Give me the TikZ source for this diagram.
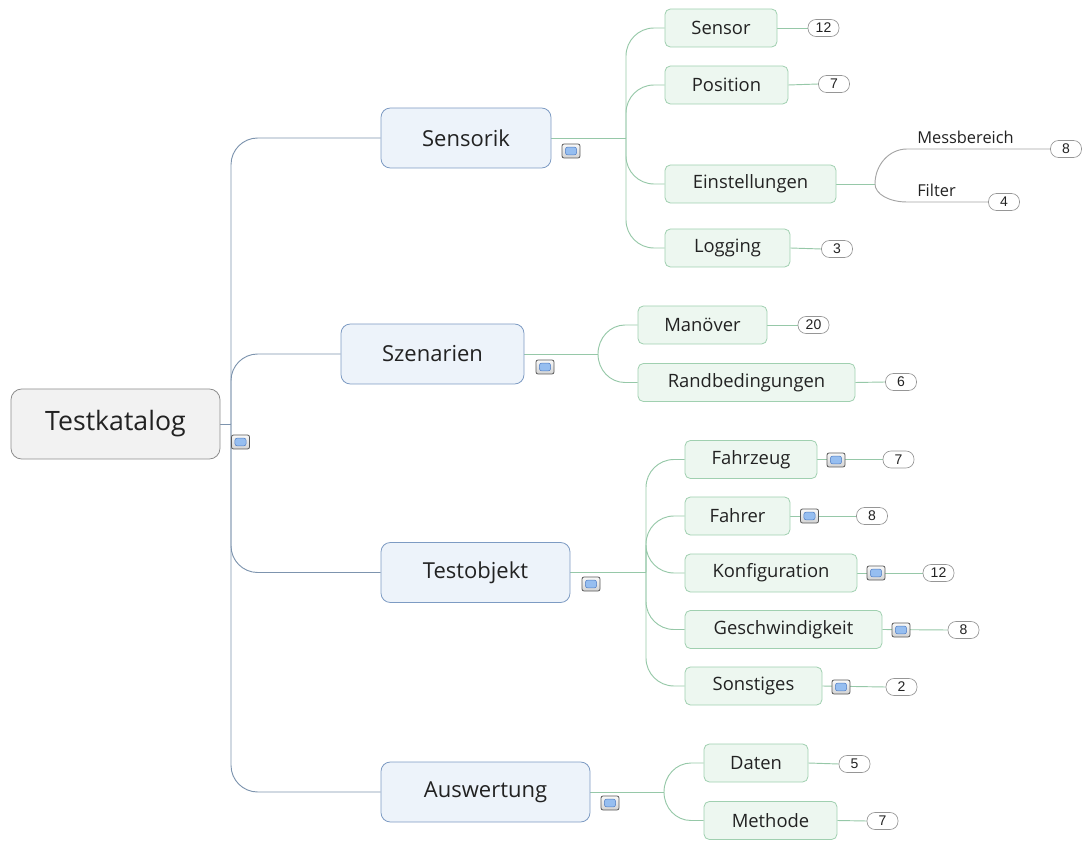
\documentclass[tikz,border=0pt]{standalone}
\usepackage{fontspec}
\setmainfont{Open Sans}
\newfontfamily\badgefont{Liberation Sans}
\usetikzlibrary{backgrounds}

\definecolor{txt}{RGB}{34,34,34}
\definecolor{rootfill}{RGB}{242,242,242}
\definecolor{rootline}{RGB}{140,140,140}
\definecolor{topicfill}{RGB}{237,243,250}
\definecolor{topicline}{RGB}{125,155,195}
\definecolor{subfill}{RGB}{237,247,240}
\definecolor{subline}{RGB}{160,208,176}
\definecolor{mainwire}{RGB}{125,148,174}
\definecolor{subwire}{RGB}{150,200,168}
\definecolor{leafwire}{RGB}{165,165,165}
\definecolor{badgeline}{RGB}{150,150,150}
\definecolor{iconblue}{RGB}{150,190,240}
\definecolor{iconedge}{RGB}{80,125,195}

\tikzset{
  rootbox/.style={draw=rootline, fill=rootfill, rounded corners=8pt, line width=0.6pt,
    text=txt, font=\fontsize{20}{24}\selectfont, inner sep=0pt, minimum height=52.5pt},
  topicbox/.style={draw=topicline, fill=topicfill, rounded corners=7pt, line width=0.6pt,
    text=txt, font=\fontsize{16.5}{20}\selectfont, inner sep=0pt, minimum height=45pt},
  subbox/.style={draw=subline, fill=subfill, rounded corners=4pt, line width=0.6pt,
    text=txt, font=\fontsize{13.8}{17}\selectfont, inner sep=0pt, minimum height=28.5pt},
  badge/.style={draw=badgeline, fill=white, rounded corners=6pt, line width=0.5pt,
    minimum width=23.25pt, minimum height=12.75pt, inner sep=0pt,
    font=\badgefont\fontsize{10.5}{11}\selectfont, text=txt},
  leaflabel/.style={anchor=west, inner sep=0pt, text=txt, font=\fontsize{12.3}{15}\selectfont},
  mainlink/.style={draw=mainwire, line width=0.7pt},
  sublink/.style={draw=subwire, line width=0.7pt},
  leaflink/.style={draw=leafwire, line width=0.7pt},
  foldbox/.style={draw=gray!70!black, top color=gray!5, bottom color=gray!35,
    rounded corners=1.5pt, line width=0.6pt, minimum width=13.5pt, minimum height=10.5pt,
    inner sep=0pt,
    path picture={\draw[draw=iconedge, fill=iconblue, line width=0.4pt]
      ([xshift=2.6pt,yshift=2.4pt]path picture bounding box.south west) rectangle
      ([xshift=-2.6pt,yshift=-2.4pt]path picture bounding box.north east);}},
}

\begin{document}
\begin{tikzpicture}[x=0.75pt,y=-0.75pt]
\useasboundingbox (0,0) rectangle (1082,841);

% root
\node[rootbox, minimum width=156.75pt] (tk) at (115.5,424) {Testkatalog};
\node[foldbox] (tkfold) at (240.5,442) {};

% main topics
\node[topicbox, minimum width=127.5pt]  (sens)    at (466,138)   {Sensorik};
\node[topicbox, minimum width=137.25pt] (szen)    at (432.5,354) {Szenarien};
\node[topicbox, minimum width=141.75pt] (testobj) at (475.5,572.5) {Testobjekt};
\node[topicbox, minimum width=156.75pt] (ausw)    at (485.5,792) {Auswertung};
\node[foldbox] (sensfold) at (571,151) {};
\node[foldbox] (szenfold) at (545,367) {};
\node[foldbox] (objfold)  at (591,584) {};
\node[foldbox] (auswfold) at (610,803) {};

% Sensorik
\node[subbox, minimum width=84pt]     (sensor)   at (721,28)    {Sensor};
\node[subbox, minimum width=92.25pt]  (position) at (726.5,85)  {Position};
\node[subbox, minimum width=128.25pt] (einst)    at (750.5,184) {Einstellungen};
\node[subbox, minimum width=93.75pt]  (logging)  at (727.5,248) {Logging};
\node[badge] (bsensor)   at (823.5,28) {12};
\node[badge] (bposition) at (834,84)   {7};
\node[badge] (blogging)  at (837,249)  {3};
\node[leaflabel] (messb)  at (917,137) {Messbereich};
\node[leaflabel] (filter) at (917,190) {Filter};
\node[badge] (bmessb)  at (1066,149) {8};
\node[badge] (bfilter) at (1004,202) {4};

% Szenarien
\node[subbox, minimum width=96.75pt]  (manoever) at (702.5,325)   {Manöver};
\node[subbox, minimum width=162.75pt] (randb)    at (746.5,382.5) {Randbedingungen};
\node[badge] (bmanoever) at (813.5,325) {20};
\node[badge] (brandb)    at (901,382)   {6};

% Testobjekt
\node[subbox, minimum width=99pt]     (fahrzeug) at (751,459.5)   {Fahrzeug};
\node[subbox, minimum width=78.75pt]  (fahrer)   at (737.5,516)   {Fahrer};
\node[subbox, minimum width=129pt]    (konfig)   at (771,573)     {Konfiguration};
\node[subbox, minimum width=147.75pt] (geschw)   at (783.5,629.5) {Geschwindigkeit};
\node[subbox, minimum width=102.75pt] (sonst)    at (753.5,686)   {Sonstiges};
\node[foldbox] (fzfold) at (836,460) {};
\node[foldbox] (frfold) at (809.5,516) {};
\node[foldbox] (kofold) at (876,573) {};
\node[foldbox] (gefold) at (901,630) {};
\node[foldbox] (sofold) at (841,687) {};
\node[badge] (bfahrzeug) at (898.5,459.5) {7};
\node[badge] (bfahrer)   at (872,516)     {8};
\node[badge] (bkonfig)   at (938.5,573)   {12};
\node[badge] (bgeschw)   at (963.5,630)   {8};
\node[badge] (bsonst)    at (901.5,687)   {2};

% Auswertung
\node[subbox, minimum width=78pt]    (daten)   at (756,763)    {Daten};
\node[subbox, minimum width=99.75pt] (methode) at (770.5,820.5) {Methode};
\node[badge] (bdaten)   at (854.5,764) {5};
\node[badge] (bmethode) at (882.5,821) {7};

\begin{scope}[on background layer]
  % trunk
  \draw[mainlink] (tk.east) -- (231,424) coordinate (trunk);
  \foreach \t in {sens,szen,testobj,ausw}
    \draw[mainlink, rounded corners=20pt] (trunk) |- (\t.west);

  % Sensorik branch
  \draw[sublink] (sens.east) -- (626,138) coordinate (sj);
  \foreach \c in {sensor,position,einst,logging}
    \draw[sublink, rounded corners=21pt] (sj) |- (\c.west);
  \draw[sublink] (sensor.east) -- (bsensor.west);
  \draw[sublink] (position.east) -- (bposition.west);
  \draw[sublink] (logging.east) -- (blogging.west);
  \draw[sublink] (einst.east) -- (875,184) coordinate (ej);
  \draw[leaflink] (ej) .. controls (875,165) and (889,149) .. (907,149) -- (bmessb.west);
  \draw[leaflink] (ej) .. controls (875,194) and (889,202) .. (907,202) -- (bfilter.west);

  % Szenarien branch
  \draw[sublink] (szen.east) -- (598,354) coordinate (zj);
  \draw[sublink] (zj) .. controls (598,338) and (610,325) .. (625,325) -- (manoever.west);
  \draw[sublink] (zj) .. controls (598,370) and (610,382.5) .. (625,382.5) -- (randb.west);
  \draw[sublink] (manoever.east) -- (bmanoever.west);
  \draw[sublink] (randb.east) -- (brandb.west);

  % Testobjekt branch
  \draw[sublink] (testobj.east) -- (646,572.5) coordinate (oj);
  \foreach \c in {fahrzeug,fahrer,konfig,geschw,sonst}
    \draw[sublink, rounded corners=21pt] (oj) |- (\c.west);
  \draw[sublink] (fahrzeug.east) -- (bfahrzeug.west);
  \draw[sublink] (fahrer.east) -- (bfahrer.west);
  \draw[sublink] (konfig.east) -- (bkonfig.west);
  \draw[sublink] (geschw.east) -- (bgeschw.west);
  \draw[sublink] (sonst.east) -- (bsonst.west);

  % Auswertung branch
  \draw[sublink] (ausw.east) -- (664,792) coordinate (aj);
  \draw[sublink] (aj) .. controls (664,776) and (676,763) .. (691,763) -- (daten.west);
  \draw[sublink] (aj) .. controls (664,808) and (676,820.5) .. (691,820.5) -- (methode.west);
  \draw[sublink] (daten.east) -- (bdaten.west);
  \draw[sublink] (methode.east) -- (bmethode.west);
\end{scope}
\end{tikzpicture}
\end{document}
